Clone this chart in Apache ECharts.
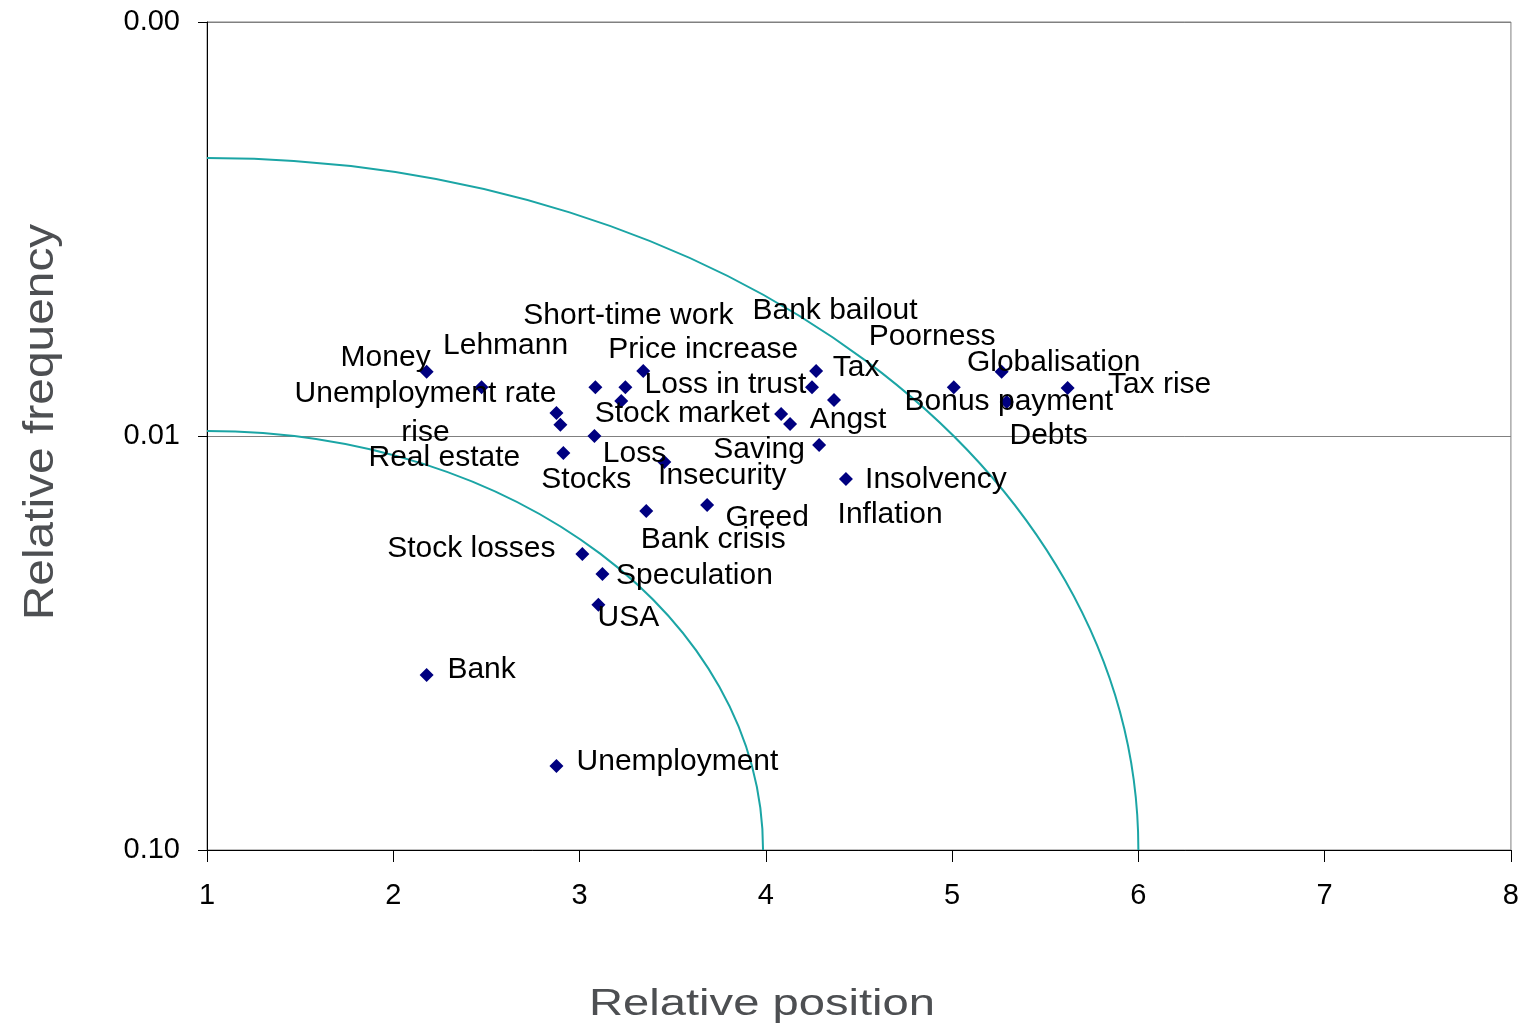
<!DOCTYPE html>
<html>
<head>
<meta charset="utf-8">
<title>Relative position vs relative frequency</title>
<script src="https://cdn.jsdelivr.net/npm/echarts@6/dist/echarts.min.js"></script>
<style>
  html, body { margin: 0; padding: 0; background: #ffffff; }
  #chart { width: 1522px; height: 1029px; }
</style>
</head>
<body>
<div id="chart"></div>
<script>
// Terms, their mean relative position and their relative frequency
const terms = [
  'Money', 'Lehmann', 'Short-time work', 'Loss in trust', 'Price increase',
  'Stock market', 'Unemployment rate\nrise', 'Real estate', 'Loss', 'Stocks',
  'Insecurity', 'Tax', 'Bank bailout', 'Poorness', 'Saving',
  'Angst', 'Inflation', 'Insolvency', 'Bonus payment', 'Globalisation',
  'Debts', 'Tax rise', 'Bank crisis', 'Greed', 'Stock losses',
  'Speculation', 'USA', 'Bank', 'Unemployment'
];
const relPosition = [
  2.179, 2.474, 3.085, 3.246, 3.342,
  3.224, 2.876, 2.897, 3.080, 2.913,
  3.455, 4.270, 4.248, 4.366, 4.082,
  4.130, 4.286, 4.430, 5.009, 5.266,
  5.293, 5.620, 3.358, 3.685, 3.015,
  3.123, 3.101, 2.179, 2.876
];
const relFrequency = [
  0.00700, 0.00762, 0.00762, 0.00762, 0.00697,
  0.00823, 0.00880, 0.00940, 0.01000, 0.01099,
  0.01156, 0.00697, 0.00762, 0.00818, 0.00885,
  0.00935, 0.01052, 0.01271, 0.00762, 0.00700,
  0.00828, 0.00766, 0.01517, 0.01468, 0.01928,
  0.02155, 0.02558, 0.03776, 0.06266
];
// Where each term's label sits relative to its marker (pixels, label centre)
const labelShift = [
  [-41, -14], [24, -41], [33, -71], [100, -2], [60, -21],
  [61, 13], [-131, 0], [-116, 33], [40, 18], [23, 27],
  [58, 14], [40, -3], [23, -76], [98, -63], [-22, 36],
  [58, -4], [71, 70], [90, 1], [55, 15], [52, -9],
  [42, 34], [92, -3], [67, 29], [60, 13], [-111, -5],
  [92, 2], [30, 13], [55, -5], [121, -4]
];
// Quarter-ellipse guides around the origin (position 1, frequency 0.10):
// horizontal reach in position units and the frequency where each meets the left axis
const arcSpanX = [2.985, 5.0];
const arcTopFreq = [0.00972, 0.00213];

// Axis ticks
const xTicks = { min: 1, max: 8, interval: 1 };
const yTicks = { min: 0.001, max: 0.1 };

const FONT = '"Liberation Sans", Arial, sans-serif';

const points = terms.map((name, i) => ({
  name: name,
  value: [relPosition[i], relFrequency[i]],
  label: { offset: labelShift[i] }
}));

const arcs = arcSpanX.map((span, i) => [span, arcTopFreq[i]]);

const chart = echarts.init(document.getElementById('chart'), null, { renderer: 'canvas' });

const K = 0.5523; // cubic Bezier constant for a quarter ellipse

chart.setOption({
  animation: false,
  backgroundColor: '#ffffff',
  grid: {
    left: 207, top: 22, right: 9, bottom: 179,
    show: true, borderColor: '#808080', borderWidth: 1, backgroundColor: 'transparent'
  },
  xAxis: {
    type: 'value',
    min: xTicks.min, max: xTicks.max, interval: xTicks.interval,
    axisLine: { show: true, lineStyle: { color: '#000000', width: 1 } },
    axisTick: { show: true, length: 12, lineStyle: { color: '#000000' } },
    axisLabel: { color: '#000000', fontSize: 29, fontFamily: FONT, margin: 31 },
    splitLine: { show: false }
  },
  yAxis: {
    type: 'log', logBase: 10, inverse: true,
    min: yTicks.min, max: yTicks.max,
    axisLine: { show: true, lineStyle: { color: '#000000', width: 1 } },
    axisTick: { show: true, length: 9, lineStyle: { color: '#000000' } },
    axisLabel: {
      color: '#000000', fontSize: 29, fontFamily: FONT, margin: 27,
      padding: [5, 0, 0, 0],
      formatter: v => Number(v).toFixed(2)
    },
    splitLine: { show: true, lineStyle: { color: '#808080', width: 1 } },
    minorTick: { show: false }
  },
  graphic: [
    {
      type: 'text', x: 762, y: 1005, scaleX: 1.31, silent: true,
      style: {
        text: 'Relative position', x: 0, y: 0,
        align: 'center', verticalAlign: 'middle',
        font: '36px ' + FONT, fill: '#4d4f52'
      }
    },
    {
      type: 'text', x: 41, y: 422, rotation: Math.PI / 2, scaleX: 1.14, silent: true,
      style: {
        text: 'Relative frequency', x: 0, y: 0,
        align: 'center', verticalAlign: 'middle',
        font: '42px ' + FONT, fill: '#4d4f52'
      }
    }
  ],
  series: [
    {
      type: 'custom',
      name: 'guides',
      z: 1,
      silent: true,
      data: arcs,
      renderItem: (params, api) => {
        const span = api.value(0);
        const top = api.value(1);
        const c = api.coord([xTicks.min, yTicks.max]);
        const e = api.coord([xTicks.min + span, yTicks.max]);
        const t = api.coord([xTicks.min, top]);
        const rx = e[0] - c[0];
        const ry = c[1] - t[1];
        return {
          type: 'bezierCurve',
          shape: {
            x1: c[0], y1: t[1],
            cpx1: c[0] + K * rx, cpy1: t[1],
            cpx2: e[0], cpy2: c[1] - K * ry,
            x2: e[0], y2: c[1]
          },
          style: { stroke: '#1ba5a5', lineWidth: 2, fill: null }
        };
      }
    },
    {
      type: 'scatter',
      name: 'terms',
      z: 3,
      symbol: 'diamond',
      symbolSize: 14,
      itemStyle: { color: '#000080', opacity: 1 },
      label: {
        show: true,
        position: 'inside',
        formatter: '{b}',
        color: '#000000',
        textBorderWidth: 0,
        fontSize: 30,
        fontFamily: FONT,
        lineHeight: 39,
        padding: [4, 0, 0, 0],
        align: 'center',
        verticalAlign: 'middle'
      },
      emphasis: { disabled: true },
      data: points
    }
  ]
});
</script>
</body>
</html>
